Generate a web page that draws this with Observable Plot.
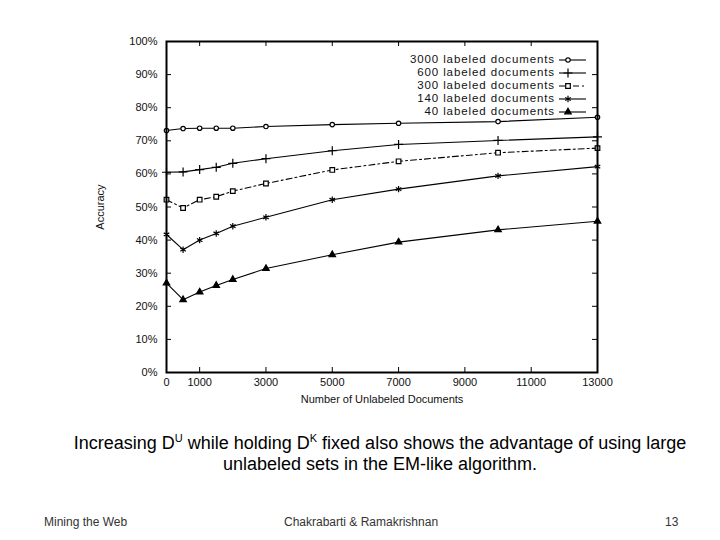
<!DOCTYPE html>
<html><head><meta charset="utf-8">
<script src="https://cdn.jsdelivr.net/npm/d3@7"></script>
<script src="https://cdn.jsdelivr.net/npm/@observablehq/plot@0.6"></script>
<style>
body{margin:0;background:#fff;font-family:"Liberation Sans",Arial,sans-serif;}
#wrap{position:relative;width:720px;height:540px;overflow:hidden;background:#fff;}
#chart{position:absolute;left:0;top:0;}
#legend{position:absolute;left:338px;top:53px;width:250px;font-size:11.5px;letter-spacing:0.9px;color:#111;}
.lrow{display:flex;justify-content:flex-end;align-items:center;height:13px;}
.lrow span{margin-right:3px;white-space:nowrap;line-height:13px;}
.cap{position:absolute;left:0;width:760px;text-align:center;font-size:18px;color:#000;line-height:21px;}
.cap sup{font-size:11px;vertical-align:7px;line-height:0;}
.foot{position:absolute;top:515px;font-size:12px;color:#333;white-space:nowrap;}
</style></head><body>
<div id="wrap">
<div id="chart"></div>
<div id="legend"></div>
<div class="cap" style="top:433px;">Increasing D<sup>U</sup> while holding D<sup>K</sup> fixed also shows the advantage of using large<br>unlabeled sets in the EM-like algorithm.</div>
<div class="foot" style="left:44px;">Mining the Web</div>
<div class="foot" style="left:284px;">Chakrabarti &amp; Ramakrishnan</div>
<div class="foot" style="left:665px;">13</div>
</div>
<script>
// ---- data ----
const unlabeled = [0, 500, 1000, 1500, 2000, 3000, 5000, 7000, 10000, 13000];
const seriesNames = ["3000 labeled documents", "600 labeled documents", "300 labeled documents", "140 labeled documents", "40 labeled documents"];
const acc3000 = [73.1, 73.7, 73.8, 73.8, 73.8, 74.3, 74.9, 75.3, 75.8, 77.1];
const acc600  = [60.5, 60.6, 61.3, 62.0, 63.2, 64.6, 67.0, 68.9, 70.1, 71.2];
const acc300  = [52.2, 49.7, 52.2, 53.1, 54.8, 57.1, 61.2, 63.8, 66.4, 67.8];
const acc140  = [41.7, 37.1, 40.0, 42.0, 44.2, 46.9, 52.2, 55.4, 59.4, 62.2];
const acc40   = [27.0, 22.0, 24.3, 26.3, 28.1, 31.4, 35.6, 39.4, 43.1, 45.7];
const xTicks = [0, 1000, 3000, 5000, 7000, 9000, 11000, 13000];
const yTicks = [0, 10, 20, 30, 40, 50, 60, 70, 80, 90, 100];

// ---- styles ----
const seriesValues = [acc3000, acc600, acc300, acc140, acc40];
const symbols = ["circle", "plus", "square", "asterisk", "triangle"];
const symSizes = [2.2, 3, 2.6, 3, 2.4];
const dashes = [null, null, "6,3,2,3", null, null];

const data = [];
seriesNames.forEach((name, i) => {
  seriesValues[i].forEach((v, j) => data.push({series: name, x: unlabeled[j], y: v}));
});

const W = 720, H = 410, mL = 166, mR = 123, mT = 41, mB = 38;
const pw = W - mL - mR, ph = H - mT - mB, tk = 5;

const marks = [
  Plot.tickY(yTicks, {y: d => d, stroke: "#000", insetRight: pw - tk}),
  Plot.tickY(yTicks, {y: d => d, stroke: "#000", insetLeft: pw - tk}),
  Plot.tickX(xTicks, {x: d => d, stroke: "#000", insetTop: ph - tk}),
  Plot.tickX(xTicks, {x: d => d, stroke: "#000", insetBottom: ph - tk}),
  Plot.axisY({ticks: yTicks, tickFormat: d => d + "%", tickSize: 0, tickPadding: 9, label: "Accuracy", labelAnchor: "center", labelOffset: 70, labelArrow: "none", fontSize: 11}),
  Plot.axisX({ticks: xTicks, tickFormat: d => String(d), tickSize: 0, tickPadding: 6, label: "Number of Unlabeled Documents", labelAnchor: "center", labelOffset: 30, labelArrow: "none", fontSize: 11}),
];
seriesNames.forEach((name, i) => {
  const rows = data.filter(d => d.series === name);
  marks.push(Plot.line(rows, {x: "x", y: "y", stroke: "#000", strokeWidth: 1.1, strokeDasharray: dashes[i]}));
  marks.push(Plot.dot(rows, {x: "x", y: "y", symbol: () => symbols[i], r: symSizes[i], stroke: "#000", fill: symbols[i] === "triangle" ? "#000" : "#fff", strokeWidth: 1.2}));
});
marks.push(Plot.frame({stroke: "#000", strokeWidth: 2}));

const chart = Plot.plot({
  width: W, height: H, marginLeft: mL, marginRight: mR, marginTop: mT, marginBottom: mB,
  style: {fontFamily: "Liberation Sans, Arial, sans-serif", fontSize: "11px", color: "#111", background: "#fff"},
  x: {domain: [0, 13000], axis: null},
  y: {domain: [0, 100], axis: null},
  symbol: {type: "identity"},
  marks
});
document.getElementById("chart").appendChild(chart);

// ---- legend ----
const leg = document.getElementById("legend");
const ns = "http://www.w3.org/2000/svg";
const symMap = {circle: d3.symbolCircle, plus: d3.symbolPlus, square: d3.symbolSquare, asterisk: d3.symbolAsterisk, triangle: d3.symbolTriangle};
seriesNames.forEach((name, i) => {
  const row = document.createElement("div");
  row.className = "lrow";
  const s = document.createElement("span");
  s.textContent = name;
  row.appendChild(s);
  const svg = document.createElementNS(ns, "svg");
  svg.setAttribute("width", 30); svg.setAttribute("height", 12);
  const l = document.createElementNS(ns, "line");
  l.setAttribute("x1", 1); l.setAttribute("x2", 28); l.setAttribute("y1", 6); l.setAttribute("y2", 6);
  l.setAttribute("stroke", "#000"); l.setAttribute("stroke-width", 1.1);
  if (dashes[i]) l.setAttribute("stroke-dasharray", dashes[i]);
  svg.appendChild(l);
  const p = document.createElementNS(ns, "path");
  const r = symSizes[i];
  p.setAttribute("d", d3.symbol(symMap[symbols[i]], Math.PI * r * r)());
  p.setAttribute("transform", "translate(10,6)");
  p.setAttribute("stroke", "#000");
  p.setAttribute("stroke-width", 1.2);
  p.setAttribute("fill", symbols[i] === "triangle" ? "#000" : "#fff");
  svg.appendChild(p);
  row.appendChild(svg);
  leg.appendChild(row);
});
</script>
</body></html>
